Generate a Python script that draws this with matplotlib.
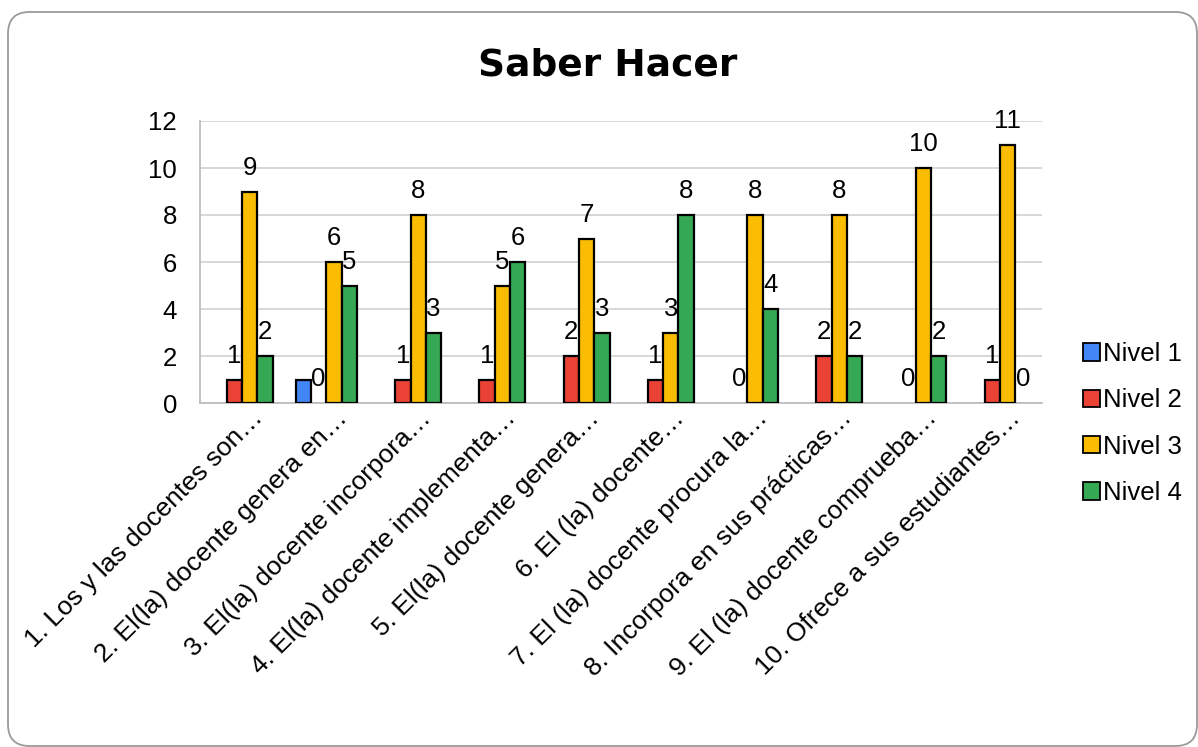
import matplotlib
matplotlib.use("Agg")
import matplotlib.pyplot as plt
import numpy as np
from matplotlib.patches import FancyBboxPatch, Patch

plt.rcParams['font.family'] = ['Liberation Sans', 'DejaVu Sans']

categories = [
    "1. Los y las docentes son…",
    "2. El(la) docente genera en…",
    "3. El(la) docente incorpora…",
    "4. El(la) docente implementa…",
    "5. El(la) docente genera…",
    "6. El (la) docente…",
    "7. El (la) docente procura la…",
    "8. Incorpora en sus prácticas…",
    "9. El (la) docente comprueba…",
    "10. Ofrece a sus estudiantes…",
]
nivel_1 = [None, 1, None, None, None, None, None, None, None, None]
nivel_2 = [1, 0, 1, 1, 2, 1, 0, 2, 0, 1]
nivel_3 = [9, 6, 8, 5, 7, 3, 8, 8, 10, 11]
nivel_4 = [2, 5, 3, 6, 3, 8, 4, 2, 2, 0]
series_names = ["Nivel 1", "Nivel 2", "Nivel 3", "Nivel 4"]
yticks = [0, 2, 4, 6, 8, 10, 12]

colors = ["#4285F4", "#EA4335", "#FBBC04", "#34A853"]
series = [nivel_1, nivel_2, nivel_3, nivel_4]
labelled = [False, True, True, True]

FS = 18.5

W, H = 1198, 747
fig = plt.figure(figsize=(W / 100, H / 100), dpi=100)
fig.patch.set_facecolor("white")

# rounded chart frame
frame = FancyBboxPatch((8 / W, 1 - 746 / H), (1197 - 8) / W, (746 - 12) / H,
                       boxstyle="round,pad=0,rounding_size=0.018",
                       transform=fig.transFigure, facecolor="none",
                       edgecolor="#9a9a9a", linewidth=1.3, zorder=-1,
                       mutation_aspect=W / H)
fig.patches.append(frame)

ax = fig.add_axes([200 / W, 1 - 403 / H, (1042 - 200) / W, (403 - 121) / H])
ax.set_facecolor("none")

n = len(categories)
x = np.arange(n)
bw = 1 / (4 + 1.5)
for k, (vals, col) in enumerate(zip(series, colors)):
    offs = (k - 1.5) * bw
    for i, v in enumerate(vals):
        if v is None:
            continue
        ax.bar(x[i] + offs, v, width=bw, color=col, edgecolor="black",
               linewidth=1.6 if v > 0 else 0, zorder=3)
        if labelled[k]:
            ax.annotate(str(v), (x[i] + offs, v), xytext=(0, 12),
                        textcoords="offset points", ha="center",
                        va="baseline", fontsize=FS, color="black", zorder=4)

ax.set_xlim(-0.5, n - 0.5)
ax.set_ylim(0, 12)
ax.set_yticks(yticks)
ax.set_yticklabels([str(t) for t in yticks], fontsize=FS)
ax.tick_params(axis="y", length=0, pad=16.5)
ax.tick_params(axis="x", length=0)
ax.set_xticks([])
ax.yaxis.grid(True, color="#d4d4d4", linewidth=1.3, zorder=0)
ax.set_axisbelow(True)
for side in ["top", "right"]:
    ax.spines[side].set_visible(False)
for side in ["left", "bottom"]:
    ax.spines[side].set_color("#bdbdbd")
    ax.spines[side].set_linewidth(1.3)

# rotated category labels
for i, lab in enumerate(categories):
    ax.text(x[i] + 0.26, -0.058, lab, transform=ax.get_xaxis_transform(),
            rotation=45, rotation_mode="anchor", ha="right", va="baseline",
            fontsize=19, color="black")

fig.text(608 / W, 1 - 76 / H, "Saber Hacer", ha="center", va="baseline",
         fontsize=27, fontweight="bold", color="black",
         family=["DejaVu Sans"])

handles = [Patch(facecolor=c, edgecolor="black", linewidth=1.3) for c in colors]
fig.legend(handles, series_names, loc="upper left",
           bbox_to_anchor=(1083 / W, 1 - 342 / H), frameon=False,
           fontsize=FS, handlelength=0.65, handleheight=0.65,
           handletextpad=0.12, labelspacing=0.87, borderaxespad=0,
           borderpad=0)

fig.savefig("out.png", dpi=100, facecolor="white")
